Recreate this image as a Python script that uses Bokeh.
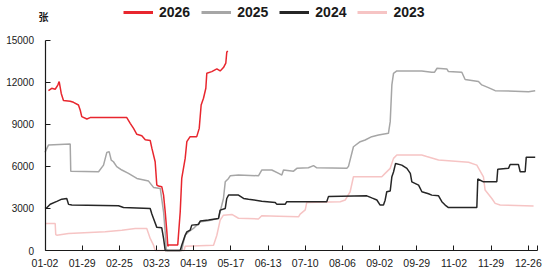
from bokeh.plotting import figure
from bokeh.models import Range1d, FixedTicker, Legend, LegendItem, Label
from bokeh.embed import file_html
from bokeh.resources import INLINE

# day index (0 = 01-02) and values
x_2026 = [2.5, 4.9, 7.4, 9.3, 10.3, 11.8, 13.4, 18.3, 20.7, 24.3, 25.6, 26.7, 30.4, 32.8, 59.4, 61.9, 64.3,
          66.7, 70.3, 72.8, 76.4, 77.6, 80.0, 81.2, 82.4, 84.8, 86.1, 87.3, 88.5, 89.2, 89.8, 96.4, 98.2, 99.3,
          101.8, 103.0, 105.4, 110.2, 112.0, 113.4, 115.1, 116.8, 117.5, 121.1, 124.8, 127.2, 129.6, 131.3,
          132.0, 132.7]
y_2026 = [11400, 11570, 11500, 11800, 12050, 11200, 10700, 10650, 10570, 10380, 10000, 9550, 9380, 9480, 9480,
          9070, 8710, 8290, 8190, 7900, 7850, 7300, 6330, 4670, 4600, 4550, 3950, 2760, 1330, 300, 400, 400,
          2760, 5140, 6570, 7760, 8120, 8120, 8710, 10380, 10860, 11570, 12640, 12760, 12950, 12810, 13050,
          13360, 14140, 14240]

x_2025 = [0, 2.5, 18.3, 18.7, 38.9, 42.5, 44.9, 46.6, 48.1, 49.7, 52.1, 55.8, 60.6, 66.7, 75.2, 78.8, 83.7,
          86.1, 87.3, 88.0, 88.6, 99.3, 100.6, 101.8, 104.2, 107.8, 112.7, 117.5, 121.1, 126.0, 127.2, 129.6,
          130.9, 133.3, 134.5, 140.5, 155.0, 157.4, 164.7, 169.7, 172.0, 173.2, 180.5, 182.9, 191.3, 195.0,
          197.4, 219.2, 220.4, 224.0, 228.9, 232.5, 237.3, 242.2, 249.4, 250.7, 251.9, 253.1, 255.5, 273.6,
          280.9, 282.8, 284.7, 291.8, 293.0, 302.7, 305.1, 314.8, 317.2, 322.0, 326.9, 351.1, 356.0]
y_2025 = [7000, 7520, 7590, 5660, 5620, 6090, 7000, 7050, 6450, 6330, 5980, 5740, 5500, 5140, 4950, 4500, 4430,
          2760, 1330, 140, 0, 0, 620, 1090, 1330, 1570, 2050, 2100, 2170, 2290, 2760, 3710, 4900, 5140, 5330,
          5380, 5330, 5740, 5740, 5500, 5380, 5740, 5660, 5860, 5900, 6050, 5900, 5860, 6000, 7400, 7760, 7880,
          8120, 8240, 8360, 9190, 11810, 12640, 12810, 12810, 12710, 12710, 13000, 12950, 12760, 12710, 12200,
          12050, 11810, 11620, 11400, 11330, 11400]

x_2024 = [0, 1.3, 3.8, 8.6, 12.2, 15.8, 17.1, 19.5, 53.4, 57.0, 76.4, 77.6, 78.8, 81.2, 84.8, 86.1, 87.3, 98.2,
          99.3, 101.8, 103.0, 105.4, 106.6, 111.5, 112.7, 118.7, 126.0, 127.2, 130.9, 132.0, 133.3, 140.5, 144.2,
          147.8, 157.4, 167.2, 168.4, 174.4, 175.6, 204.6, 205.9, 233.7, 237.3, 241.0, 243.4, 245.8, 247.0,
          248.2, 250.7, 251.9, 253.1, 254.6, 259.1, 262.8, 265.3, 266.4, 271.3, 273.7, 278.5, 280.9, 285.8,
          288.2, 290.6, 293.0, 313.6, 314.3, 318.4, 328.1, 328.8, 336.6, 337.8, 343.8, 345.1, 348.7, 349.5, 356.0]
y_2024 = [3000, 3050, 3300, 3500, 3660, 3710, 3290, 3240, 3190, 3070, 3000, 2600, 2290, 1650, 1620, 860, 0, 0,
          380, 1090, 1330, 1450, 1810, 1860, 2100, 2170, 2290, 2880, 3000, 3710, 3950, 3950, 3710, 3650, 3520,
          3430, 3290, 3290, 3480, 3480, 3860, 3900, 3750, 3600, 3240, 3240, 3590, 4190, 4250, 5260, 5600, 6210,
          6090, 5860, 5500, 4900, 4660, 4190, 4050, 3950, 3900, 3480, 3240, 3060, 3060, 5100, 4900, 4900, 5800,
          5860, 6140, 6140, 5620, 5620, 6660, 6660]

x_2023 = [0, 7.4, 7.8, 8.6, 17.1, 43.7, 55.8, 65.5, 73.9, 76.4, 78.8, 80.0, 101.0, 101.8, 122.4, 124.8, 127.2,
          129.6, 135.7, 140.5, 155.0, 157.4, 169.6, 184.1, 185.3, 189.0, 190.1, 214.4, 218.0, 221.6, 224.0,
          244.6, 247.0, 250.7, 253.1, 255.5, 273.6, 277.2, 285.8, 307.6, 313.6, 318.4, 319.6, 324.5, 326.9,
          330.5, 354.8]
y_2023 = [1930, 1930, 1140, 1090, 1210, 1330, 1450, 1570, 1570, 860, 380, 0, 0, 300, 380, 1090, 2170, 2520,
          2570, 2300, 2250, 2480, 2450, 2400, 2600, 2900, 3430, 3480, 3600, 4190, 5260, 5260, 5500, 5860, 6570,
          6810, 6810, 6700, 6450, 6290, 6090, 5260, 4310, 3710, 3360, 3240, 3170]

tick_pos = [0, 27, 54, 81, 108, 135, 162, 189, 216, 243, 270, 297, 324, 351, 357.3]
tick_labels = ["01-02", "01-29", "02-25", "03-23", "04-19", "05-17", "06-13", "07-10", "08-06",
               "09-02", "09-29", "11-02", "11-29", "12-26", ""]
y_ticks = [0, 3000, 6000, 9000, 12000, 15000]
series_names = ["2026", "2025", "2024", "2023"]
colors = {"2026": "#e8262e", "2025": "#a6a6a6", "2024": "#262626", "2023": "#f6c4c4"}

# layout (pixels); the frame fills the whole figure, axes are pinned inside it
W, H = 542, 270
X0_PX, X_PER_PX = 44.5, 1.0 / 1.377      # frame px of index 0, index per px
Y0_PX, Y_PER_PX = 250.0, 15000 / 210.3   # frame px (from top) of value 0, value per px
x_lo = -X0_PX * X_PER_PX
x_hi = (W - X0_PX) * X_PER_PX
y_hi = Y0_PX * Y_PER_PX
y_lo = -(H - Y0_PX) * Y_PER_PX

p = figure(width=W, height=H, output_backend="svg", toolbar_location=None,
           x_range=Range1d(x_lo, x_hi), y_range=Range1d(y_lo, y_hi),
           min_border_left=0, min_border_right=0, min_border_top=0, min_border_bottom=0)
p.grid.visible = False
p.outline_line_color = None
p.background_fill_color = "white"

data = {"2026": (x_2026, y_2026), "2025": (x_2025, y_2025), "2024": (x_2024, y_2024), "2023": (x_2023, y_2023)}
for name in ["2023", "2025", "2024", "2026"]:
    xs, ys = data[name]
    p.line(xs, ys, line_color=colors[name], line_width=1.5)

LEG_H = 16
nan = float("nan")
items = []
for name in series_names:
    # legend-only proxy (NaN point: never drawn in the plot, gives a thicker legend swatch)
    r = p.line([nan], [nan], line_color=colors[name], line_width=3)
    items.append(LegendItem(label=name, renderers=[r]))
# location is the legend's bottom-left corner, measured from the frame's bottom-left
legend = Legend(items=items, orientation="horizontal", location=(123, H - 4 - LEG_H),
                padding=0, margin=0, spacing=11, glyph_width=30, glyph_height=LEG_H,
                label_height=LEG_H, label_standoff=6, label_text_font="Liberation Sans",
                label_text_font_size="14px", label_text_font_style="bold",
                label_text_color="#1a1a1a", border_line_alpha=0, background_fill_alpha=0)
p.add_layout(legend, "center")

p.xaxis.fixed_location = 0
p.yaxis.fixed_location = 0
p.xaxis.bounds = (0, 357.3)
p.yaxis.bounds = (0, 15000)
p.xaxis.ticker = FixedTicker(ticks=tick_pos)
p.xaxis.major_label_overrides = {t: l for t, l in zip(tick_pos, tick_labels)}
p.yaxis.ticker = FixedTicker(ticks=y_ticks)
for ax in (p.xaxis, p.yaxis):
    ax.minor_tick_line_color = None
    ax.major_tick_in = 5
    ax.major_tick_out = 0
    ax.axis_line_color = "#1a1a1a"
    ax.major_tick_line_color = "#1a1a1a"
    ax.axis_line_width = 1.2
    ax.major_label_text_font = "Liberation Sans"
    ax.major_label_text_color = "#1a1a1a"
p.xaxis.major_label_text_font_size = "10.5px"
p.yaxis.major_label_text_font_size = "10px"
p.yaxis.major_label_standoff = 11
p.xaxis.major_label_standoff = 8

unit = Label(x=43, y=H - 16, x_units="screen", y_units="screen", text="张", text_align="center",
             text_baseline="middle", text_font_size="10px", text_font="Noto Sans CJK SC",
             text_font_style="bold", text_color="#1a1a1a")
p.add_layout(unit)

open("out.html", "w").write(file_html(p, INLINE))
